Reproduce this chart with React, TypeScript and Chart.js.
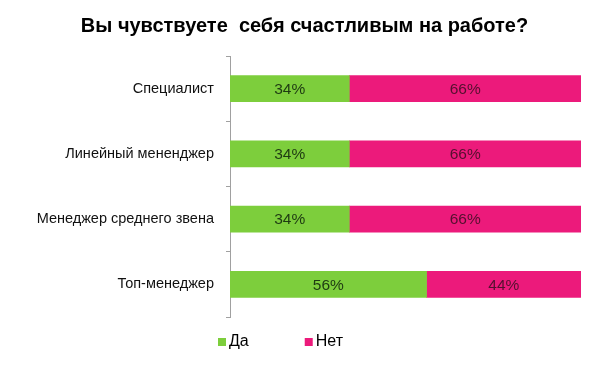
import React, { useEffect, useRef } from "react";
import { Chart, registerables } from "chart.js";

Chart.register(...registerables);

const titleText = "Вы чувствуете  себя счастливым на работе?";
const categories = ["Специалист", "Линейный мененджер", "Менеджер среднего звена", "Топ-менеджер"];
const yesValues = [34, 34, 34, 56];
const noValues = [66, 66, 66, 44];
const seriesNames = ["Да", "Нет"];
const seriesColors = ["#7dce3c", "#ec1a7b"];
const labelColors = ["#1e3a12", "#55102f"];

const FONT = "'Liberation Sans', Arial, sans-serif";

const valueLabelPlugin = {
  id: "valueLabels",
  afterDatasetsDraw(chart: any) {
    const ctx = chart.ctx;
    ctx.save();
    ctx.font = `15.5px ${FONT}`;
    ctx.textAlign = "center";
    ctx.textBaseline = "middle";
    chart.data.datasets.forEach((ds: any, di: number) => {
      const meta = chart.getDatasetMeta(di);
      meta.data.forEach((bar: any, i: number) => {
        const { x, y, base } = bar.getProps(["x", "y", "base"], true);
        ctx.fillStyle = labelColors[di];
        ctx.fillText(ds.data[i] + "%", (x + base) / 2, y + 1);
      });
    });
    ctx.restore();
  },
};

const titleShiftPlugin = {
  id: "titleShift",
  afterLayout(chart: any) {
    const t = chart.titleBlock;
    if (t) {
      t.left += 14;
      t.right += 14;
    }
  },
};

const customLegendPlugin = {
  id: "customLegend",
  afterDraw(chart: any) {
    const ctx = chart.ctx;
    ctx.save();
    ctx.font = `16px ${FONT}`;
    ctx.textBaseline = "middle";
    ctx.textAlign = "left";
    let x = 218;
    const cy = 342;
    chart.data.datasets.forEach((ds: any) => {
      ctx.fillStyle = ds.backgroundColor;
      ctx.fillRect(x, cy - 4, 8, 8);
      ctx.fillStyle = "#000";
      ctx.fillText(ds.label, x + 11, cy);
      x += 11 + ctx.measureText(ds.label).width + 56;
    });
    ctx.restore();
  },
};

export default function App() {
  const ref = useRef<HTMLCanvasElement>(null);
  useEffect(() => {
    document.body.style.margin = "0";
    const chart = new Chart(ref.current!, {
      type: "bar",
      data: {
        labels: categories,
        datasets: [
          { label: seriesNames[0], data: yesValues, backgroundColor: seriesColors[0], barThickness: 26 },
          { label: seriesNames[1], data: noValues, backgroundColor: seriesColors[1], barThickness: 26 },
        ],
      },
      options: {
        indexAxis: "y",
        responsive: false,
        animation: false,
        layout: { padding: { top: 14, right: 19, bottom: 57, left: 0 } },
        plugins: {
          legend: { display: false },
          tooltip: { enabled: false },
          title: {
            display: true,
            text: titleText,
            color: "#000",
            font: { family: FONT, size: 20, weight: "bold" },
            padding: { top: 0, bottom: 18 },
          },
        },
        scales: {
          x: { stacked: true, min: 0, max: 100, display: false },
          y: {
            stacked: true,
            afterFit: (scale: any) => {
              scale.width = 230;
            },
            grid: { drawOnChartArea: false, drawTicks: true, tickLength: 4, color: "#a0a0a0", offset: true },
            border: { display: true, color: "#a0a0a0", width: 1 },
            ticks: { color: "#111", padding: 12, font: { family: FONT, size: 14.5 } },
          },
        },
      },
      plugins: [valueLabelPlugin, titleShiftPlugin, customLegendPlugin],
    });
    return () => chart.destroy();
  }, []);
  return <canvas ref={ref} width={600} height={374} style={{ display: "block" }} />;
}
